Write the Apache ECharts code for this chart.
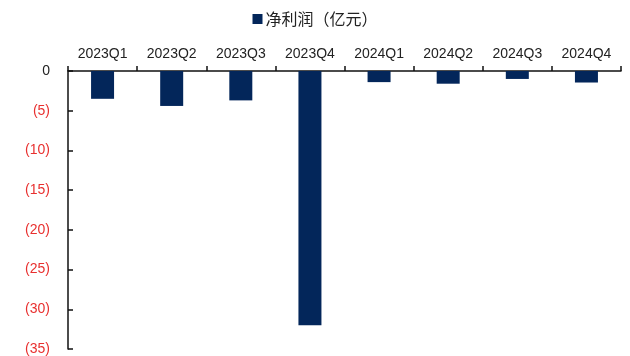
<!DOCTYPE html>
<html>
<head>
<meta charset="utf-8">
<script src="https://cdn.jsdelivr.net/npm/echarts@6/dist/echarts.min.js"></script>
<style>
  html, body { margin: 0; padding: 0; background: #fff; }
  #main { width: 630px; height: 356px; }
</style>
</head>
<body>
<div id="main"></div>
<script>
// 季度
var quarters = ['2023Q1', '2023Q2', '2023Q3', '2023Q4', '2024Q1', '2024Q2', '2024Q3', '2024Q4'];
// 净利润（亿元）
var netProfit = [-3.5, -4.4, -3.7, -32.0, -1.4, -1.6, -1.0, -1.45];

var chart = echarts.init(document.getElementById('main'));
var option = {
	animation: false,
	legend: {
		top: 6,
		left: 'center',
		itemWidth: 10,
		itemHeight: 10,
		itemGap: 4,
		icon: 'rect',
		textStyle: {
			fontFamily: 'Noto Sans CJK SC',
			fontSize: 16,
			color: '#222',
			padding: [0, 0, 0, -2]
		},
		data: ['净利润（亿元）']
	},
	grid: {
		left: 68,
		right: 9,
		top: 71,
		bottom: 6
	},
	xAxis: {
		type: 'category',
		position: 'top',
		data: quarters,
		axisLine: { lineStyle: { color: '#111', width: 1.5 } },
		axisTick: { show: true, alignWithLabel: false, length: 5, lineStyle: { color: '#111', width: 1.5 } },
		axisLabel: {
			margin: 10,
			fontFamily: 'Liberation Sans',
			fontSize: 14,
			color: '#222'
		}
	},
	yAxis: {
		type: 'value',
		min: -35,
		max: 0,
		interval: 5,
		splitLine: { show: false },
		axisLine: { show: true, lineStyle: { color: '#111', width: 1.5 } },
		axisTick: { show: true, inside: true, length: 5, lineStyle: { color: '#111', width: 1.5 } },
		axisLabel: {
			margin: 18,
			fontFamily: 'Liberation Sans',
			fontSize: 14,
			formatter: function (v) {
				return v === 0 ? '0' : '(' + (-v) + ')';
			},
			color: function (v) {
				return Number(v) === 0 ? '#222' : '#e8302f';
			}
		}
	},
	series: [
		{
			name: '净利润（亿元）',
			type: 'bar',
			data: netProfit,
			barWidth: 23,
			itemStyle: { color: '#03265a' }
		}
	]
};
chart.setOption(option);
</script>
</body>
</html>
